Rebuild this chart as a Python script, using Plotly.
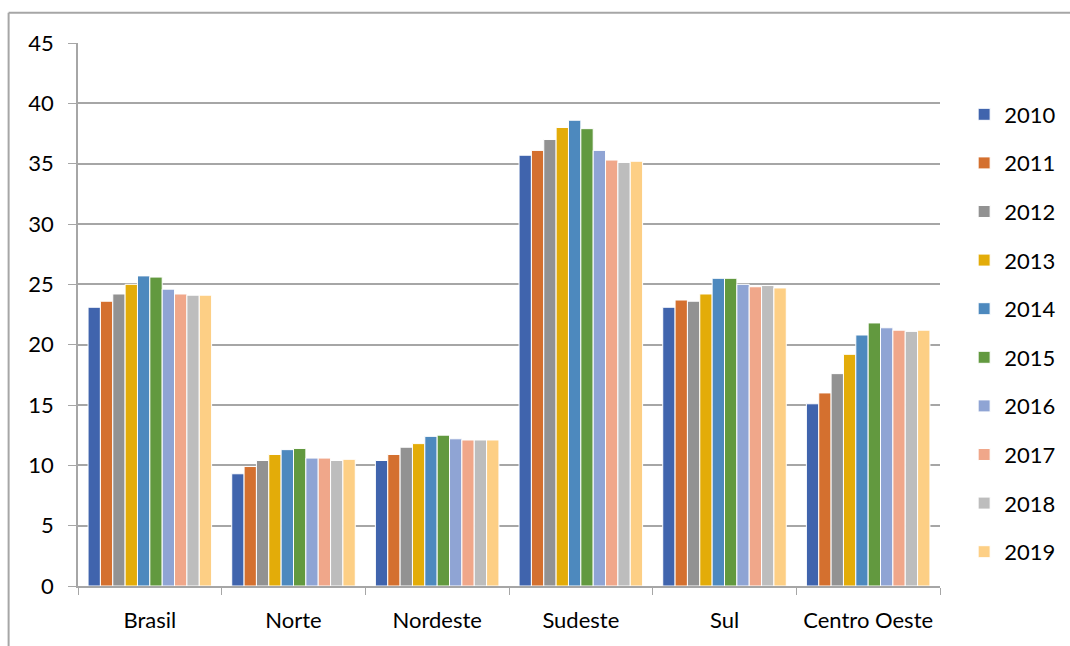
import plotly.graph_objects as go

regions = ["Brasil", "Norte", "Nordeste", "Sudeste", "Sul", "Centro Oeste"]
years = ["2010", "2011", "2012", "2013", "2014", "2015", "2016", "2017", "2018", "2019"]

# values per year, one entry per region (same order as `regions`)
v2010 = [23.1, 9.3, 10.4, 35.7, 23.1, 15.1]
v2011 = [23.6, 9.9, 10.9, 36.1, 23.7, 16.0]
v2012 = [24.2, 10.4, 11.5, 37.0, 23.6, 17.6]
v2013 = [25.0, 10.9, 11.8, 38.0, 24.2, 19.2]
v2014 = [25.7, 11.3, 12.4, 38.6, 25.5, 20.8]
v2015 = [25.6, 11.4, 12.5, 37.9, 25.5, 21.8]
v2016 = [24.6, 10.6, 12.2, 36.1, 25.0, 21.4]
v2017 = [24.2, 10.6, 12.1, 35.3, 24.8, 21.2]
v2018 = [24.1, 10.4, 12.1, 35.1, 24.9, 21.1]
v2019 = [24.1, 10.5, 12.1, 35.2, 24.7, 21.2]

series = [v2010, v2011, v2012, v2013, v2014, v2015, v2016, v2017, v2018, v2019]
colors = ["#4064AD", "#D4702F", "#929292", "#E3AC09", "#4D89BE",
          "#62993F", "#8FA4D4", "#F0A78A", "#BDBDBD", "#FDCF85"]

FONT = "Lato, Calibri, Carlito, sans-serif"
FSIZE = 22

fig = go.Figure()
for yr, vals, col in zip(years, series, colors):
    fig.add_trace(go.Bar(
        name=yr, x=regions, y=vals,
        marker=dict(color=col, line=dict(color="white", width=1)),
        legendgroup=yr,
    ))

fig.update_layout(
    width=1070, height=646,
    margin=dict(l=78, r=130, t=43, b=60, autoexpand=False),
    paper_bgcolor="white", plot_bgcolor="white",
    barmode="group", bargap=0.14, bargroupgap=0,
    font=dict(family=FONT, size=FSIZE, color="black"),
    showlegend=True,
    legend=dict(
        x=1.028, y=0.907, xanchor="left", yanchor="top",
        font=dict(family=FONT, size=FSIZE, color="black"),
        tracegroupgap=17, itemwidth=30,
        bgcolor="rgba(0,0,0,0)",
    ),
    xaxis=dict(
        showline=True, linecolor="#A6A6A6", linewidth=1.5,
        ticks="outside", tickson="boundaries", ticklen=7, tickcolor="#A6A6A6",
        ticklabelstandoff=14,
        tickfont=dict(family=FONT, size=FSIZE, color="black"),
        showgrid=False,
    ),
    yaxis=dict(
        range=[0, 45], dtick=5,
        showline=True, linecolor="#A6A6A6", linewidth=1.5,
        ticks="outside", ticklen=8, tickcolor="#A6A6A6",
        ticklabelstandoff=10,
        showgrid=True, gridcolor="#A6A6A6", gridwidth=1.5,
        zeroline=False,
        tickfont=dict(family=FONT, size=FSIZE, color="black"),
    ),
)

# frame lines around the chart area (top and left edges)
fig.add_shape(type="line", xref="paper", yref="paper",
              x0=-0.0805, x1=1.2, y0=1.0555, y1=1.0555,
              line=dict(color="#A6A6A6", width=2))
fig.add_shape(type="line", xref="paper", yref="paper",
              x0=-0.0805, x1=-0.0805, y0=1.0555, y1=-0.2,
              line=dict(color="#A6A6A6", width=2))

fig.write_html("out.html")
